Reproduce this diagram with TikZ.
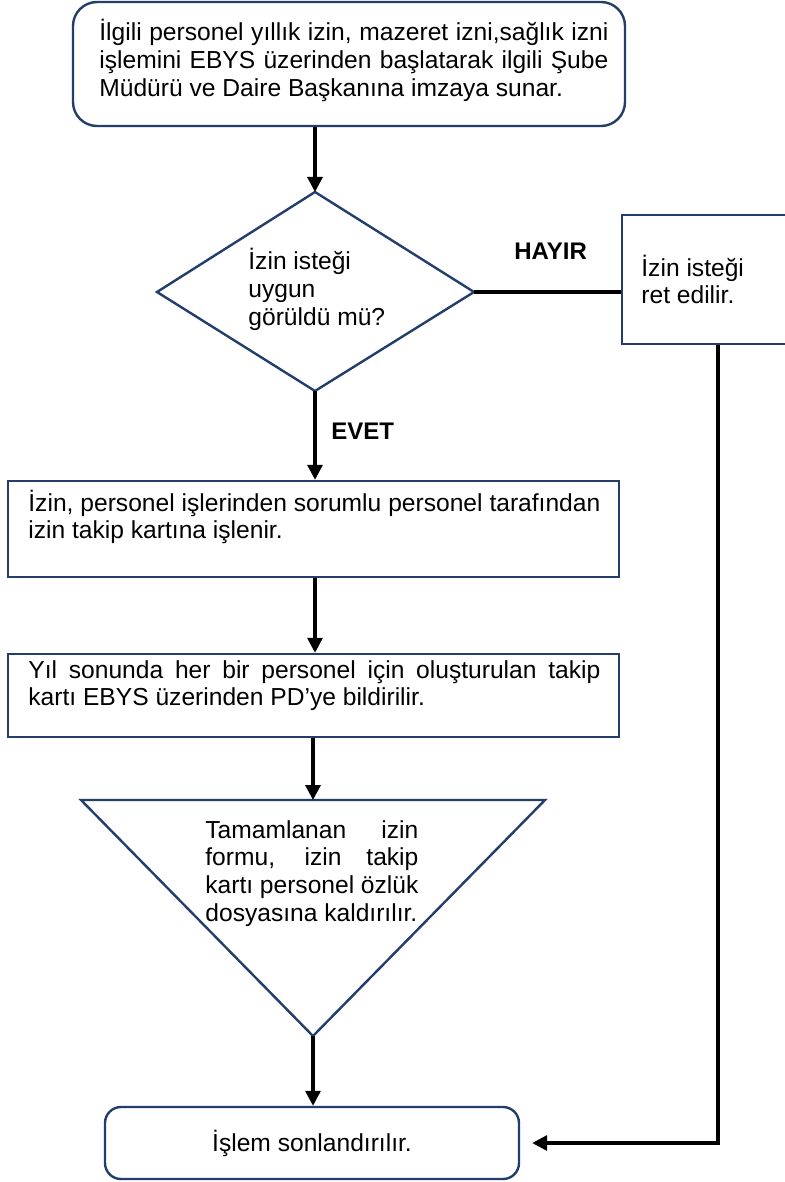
\documentclass[tikz,border=0pt]{standalone}
\usepackage{fontspec}
\setmainfont{Liberation Sans}
\usetikzlibrary{arrows.meta}
\definecolor{edgeblue}{RGB}{36,62,108}
\newcommand\jline[2]{\makebox[#1][s]{#2}}
\begin{document}
\begin{tikzpicture}[x=0.5pt,y=-0.5pt,
  every node/.style={font=\fontsize{12.3pt}{13.9pt}\selectfont},
  boxshape/.style={draw=edgeblue,line width=1.2pt,inner sep=0pt},
  roundshape/.style={boxshape,rounded corners=12pt},
  outline/.style={draw=edgeblue,line width=1.2pt,line join=miter},
  conn/.style={line width=1.6pt,-{Triangle[width=7.5pt,length=7.5pt]}},
  plainline/.style={line width=1.6pt},
  txt/.style={inner sep=0pt,anchor=base west},
  lbl/.style={inner sep=0pt,anchor=base west,font=\fontsize{12pt}{13.9pt}\selectfont\bfseries}]
\useasboundingbox (0,0) rectangle (784,1182);
\fill[white] (0,0) rectangle (784,1182);

% start box
\node[roundshape, minimum width=276pt, minimum height=62pt] (start) at (349,64) {};
\node[txt] (starttext) at (99,41) {\parbox[t]{254.5pt}{\jline{254.5pt}{İlgili personel yıllık izin, mazeret izni,sağlık izni}\\\jline{254.5pt}{işlemini EBYS üzerinden başlatarak ilgili Şube}\\Müdürü ve Daire Başkanına imzaya sunar.}};

% decision
\coordinate (dtop) at (315,192);
\coordinate (dright) at (474,292);
\coordinate (dbot) at (315,391);
\coordinate (dleft) at (157,292);
\draw[outline] (dtop) -- (dright) -- (dbot) -- (dleft) -- cycle;
\node[txt] (dtext) at (248,270) {\parbox[t]{75pt}{İzin isteği\\uygun\\görüldü mü?}};

% reject box
\node[boxshape, minimum width=89pt, minimum height=64.5pt] (ret) at (711,279.5) {};
\node[txt] (rettext) at (641,276) {\parbox[t]{60pt}{İzin isteği\\ret edilir.}};

\node[lbl] (hayir) at (514,259) {HAYIR};
\node[lbl] (evet) at (331,439) {EVET};

% process boxes
\node[boxshape, minimum width=305.5pt, minimum height=48pt] (kart) at (313.5,529) {};
\node[txt] (karttext) at (28,511) {\parbox[t]{286pt}{\jline{286pt}{İzin, personel işlerinden sorumlu personel tarafından}\\izin takip kartına işlenir.}};

\node[boxshape, minimum width=305.5pt, minimum height=41.5pt] (pd) at (313.5,695.5) {};
\node[txt] (pdtext) at (28,678) {\parbox[t]{286pt}{\jline{286pt}{Yıl sonunda her bir personel için oluşturulan takip}\\kartı EBYS üzerinden PD’ye bildirilir.}};

% archive triangle
\coordinate (ttl) at (81,800);
\coordinate (ttr) at (545,800);
\coordinate (tbot) at (313,1036);
\coordinate (ttop) at (313,800);
\draw[outline] (ttl) -- (ttr) -- (tbot) -- cycle;
\node[txt] (ttext) at (205,838) {\parbox[t]{106.5pt}{\jline{106.5pt}{Tamamlanan izin}\\\jline{106.5pt}{formu, izin takip}\\\jline{106.5pt}{kartı personel özlük}\\dosyasına kaldırılır.}};

% end
\node[roundshape, rounded corners=8pt, minimum width=207pt, minimum height=36pt] (end) at (312,1143) {İşlem sonlandırılır.};

% connectors
\draw[conn] (start.south -| dtop) -- (dtop);
\draw[plainline] (dright) -- (dright -| ret.west);
\draw[conn] (dbot) -- (dbot |- kart.north);
\draw[conn] (kart.south -| dbot) -- (pd.north -| dbot);
\draw[conn] (pd.south -| ttop) -- (ttop);
\draw[conn] (tbot) -- (tbot |- end.north);
\coordinate (rb) at ([xshift=3.5pt]ret.south);
\draw[conn, shorten >=6pt] (rb) |- (end.east);
\end{tikzpicture}
\end{document}
